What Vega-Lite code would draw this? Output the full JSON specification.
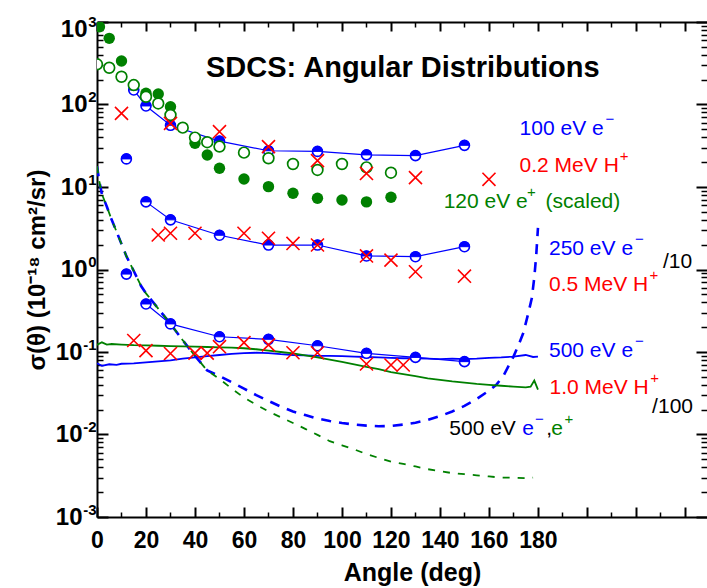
{
  "$schema": "https://vega.github.io/schema/vega-lite/v6.json",
  "width": 610,
  "height": 495,
  "autosize": {"type": "none"},
  "padding": {"left": 97, "top": 22, "right": 0, "bottom": 71},
  "background": "white",
  "config": {"view": {"stroke": null}, "font": "Liberation Sans", "axis": {"grid": false}},
  "datasets": {
    "bdash": [
      {"a": 0, "v": 17.8}, {"a": 1, "v": 11.5}, {"a": 2, "v": 8.2}, {"a": 4, "v": 5.8}, {"a": 6, "v": 4.0},
      {"a": 8, "v": 2.87}, {"a": 10, "v": 2.04}, {"a": 12, "v": 1.45}, {"a": 15, "v": 0.96}, {"a": 18, "v": 0.63},
      {"a": 20, "v": 0.514}, {"a": 25, "v": 0.336}, {"a": 30, "v": 0.219}, {"a": 35, "v": 0.139}, {"a": 40, "v": 0.0897},
      {"a": 45, "v": 0.0596}, {"a": 50, "v": 0.051}, {"a": 55, "v": 0.043}, {"a": 60, "v": 0.036}, {"a": 65, "v": 0.030},
      {"a": 70, "v": 0.0255}, {"a": 75, "v": 0.0218}, {"a": 80, "v": 0.019}, {"a": 85, "v": 0.0172}, {"a": 90, "v": 0.0156},
      {"a": 95, "v": 0.0146}, {"a": 100, "v": 0.0138}, {"a": 105, "v": 0.0132}, {"a": 110, "v": 0.0128}, {"a": 115, "v": 0.0126},
      {"a": 120, "v": 0.0127}, {"a": 125, "v": 0.0132}, {"a": 130, "v": 0.0139}, {"a": 135, "v": 0.015}, {"a": 140, "v": 0.0167},
      {"a": 145, "v": 0.019}, {"a": 150, "v": 0.0222}, {"a": 155, "v": 0.027}, {"a": 160, "v": 0.034}, {"a": 163, "v": 0.040},
      {"a": 166, "v": 0.052}, {"a": 170, "v": 0.088}, {"a": 172, "v": 0.12}, {"a": 174, "v": 0.17}, {"a": 176, "v": 0.29},
      {"a": 177.5, "v": 0.45}, {"a": 178.5, "v": 0.8}, {"a": 179.3, "v": 1.5}, {"a": 180, "v": 3.2}
    ],
    "gdash": [
      {"a": 0, "v": 17.8}, {"a": 1, "v": 11.5}, {"a": 2, "v": 8.2}, {"a": 4, "v": 5.8}, {"a": 6, "v": 4.0},
      {"a": 8, "v": 2.87}, {"a": 10, "v": 2.04}, {"a": 12, "v": 1.45}, {"a": 15, "v": 0.96}, {"a": 18, "v": 0.63},
      {"a": 20, "v": 0.514}, {"a": 25, "v": 0.336}, {"a": 30, "v": 0.219}, {"a": 35, "v": 0.139}, {"a": 40, "v": 0.0897},
      {"a": 45, "v": 0.0596}, {"a": 50, "v": 0.047}, {"a": 55, "v": 0.036}, {"a": 60, "v": 0.028}, {"a": 65, "v": 0.023},
      {"a": 70, "v": 0.019}, {"a": 75, "v": 0.0162}, {"a": 80, "v": 0.0138}, {"a": 85, "v": 0.0117}, {"a": 90, "v": 0.0099},
      {"a": 95, "v": 0.0083}, {"a": 100, "v": 0.0074}, {"a": 105, "v": 0.0066}, {"a": 110, "v": 0.0058}, {"a": 115, "v": 0.0052},
      {"a": 120, "v": 0.0047}, {"a": 125, "v": 0.0044}, {"a": 130, "v": 0.0041}, {"a": 135, "v": 0.0038}, {"a": 140, "v": 0.0036},
      {"a": 145, "v": 0.0034}, {"a": 150, "v": 0.0033}, {"a": 155, "v": 0.0032}, {"a": 160, "v": 0.0031}, {"a": 165, "v": 0.0030},
      {"a": 170, "v": 0.0030}, {"a": 175, "v": 0.00295}, {"a": 178, "v": 0.0030}
    ],
    "bsolid": [
      {"a": 0, "v": 0.073}, {"a": 2, "v": 0.068}, {"a": 5, "v": 0.071}, {"a": 8, "v": 0.070}, {"a": 10, "v": 0.072},
      {"a": 15, "v": 0.073}, {"a": 20, "v": 0.075}, {"a": 25, "v": 0.077}, {"a": 30, "v": 0.079}, {"a": 35, "v": 0.083},
      {"a": 40, "v": 0.086}, {"a": 45, "v": 0.089}, {"a": 50, "v": 0.092}, {"a": 55, "v": 0.095}, {"a": 60, "v": 0.097},
      {"a": 65, "v": 0.098}, {"a": 70, "v": 0.097}, {"a": 75, "v": 0.094}, {"a": 80, "v": 0.092}, {"a": 85, "v": 0.091},
      {"a": 90, "v": 0.090}, {"a": 95, "v": 0.090}, {"a": 100, "v": 0.089}, {"a": 105, "v": 0.088}, {"a": 110, "v": 0.087},
      {"a": 115, "v": 0.086}, {"a": 120, "v": 0.085}, {"a": 125, "v": 0.084}, {"a": 130, "v": 0.084}, {"a": 135, "v": 0.083},
      {"a": 140, "v": 0.082}, {"a": 145, "v": 0.083}, {"a": 150, "v": 0.082}, {"a": 155, "v": 0.083}, {"a": 160, "v": 0.085},
      {"a": 165, "v": 0.086}, {"a": 170, "v": 0.088}, {"a": 175, "v": 0.092}, {"a": 178, "v": 0.087}, {"a": 180, "v": 0.088}
    ],
    "gsolid": [
      {"a": 0, "v": 0.122}, {"a": 2, "v": 0.131}, {"a": 4, "v": 0.123}, {"a": 6, "v": 0.125}, {"a": 10, "v": 0.123},
      {"a": 15, "v": 0.121}, {"a": 20, "v": 0.120}, {"a": 25, "v": 0.119}, {"a": 30, "v": 0.118}, {"a": 35, "v": 0.117},
      {"a": 40, "v": 0.116}, {"a": 45, "v": 0.115}, {"a": 50, "v": 0.114}, {"a": 55, "v": 0.113}, {"a": 60, "v": 0.111},
      {"a": 65, "v": 0.108}, {"a": 70, "v": 0.104}, {"a": 75, "v": 0.100}, {"a": 80, "v": 0.096}, {"a": 85, "v": 0.091},
      {"a": 90, "v": 0.086}, {"a": 95, "v": 0.081}, {"a": 100, "v": 0.076}, {"a": 105, "v": 0.071}, {"a": 110, "v": 0.066},
      {"a": 115, "v": 0.062}, {"a": 120, "v": 0.057}, {"a": 125, "v": 0.054}, {"a": 130, "v": 0.051}, {"a": 135, "v": 0.048},
      {"a": 140, "v": 0.046}, {"a": 145, "v": 0.044}, {"a": 150, "v": 0.0425}, {"a": 155, "v": 0.041}, {"a": 160, "v": 0.040},
      {"a": 165, "v": 0.039}, {"a": 170, "v": 0.038}, {"a": 175, "v": 0.0373}, {"a": 177, "v": 0.038}, {"a": 178.5, "v": 0.045},
      {"a": 180, "v": 0.035}
    ],
    "eblue": [
      {"s": "e100", "a": 15, "v": 150}, {"s": "e100", "a": 20, "v": 96}, {"s": "e100", "a": 30, "v": 56},
      {"s": "e100", "a": 50, "v": 36}, {"s": "e100", "a": 70, "v": 27.5}, {"s": "e100", "a": 90, "v": 27},
      {"s": "e100", "a": 110, "v": 24.5}, {"s": "e100", "a": 130, "v": 24}, {"s": "e100", "a": 150, "v": 32},
      {"s": "e250", "a": 12, "v": 21.9}, {"s": "e250", "a": 20, "v": 6.6}, {"s": "e250", "a": 30, "v": 4.0},
      {"s": "e250", "a": 50, "v": 2.6}, {"s": "e250", "a": 70, "v": 1.98}, {"s": "e250", "a": 90, "v": 1.98},
      {"s": "e250", "a": 110, "v": 1.46}, {"s": "e250", "a": 130, "v": 1.43}, {"s": "e250", "a": 150, "v": 1.89},
      {"s": "e500", "a": 12, "v": 0.88}, {"s": "e500", "a": 20, "v": 0.382}, {"s": "e500", "a": 30, "v": 0.219},
      {"s": "e500", "a": 50, "v": 0.153}, {"s": "e500", "a": 70, "v": 0.1425}, {"s": "e500", "a": 90, "v": 0.119},
      {"s": "e500", "a": 110, "v": 0.0964}, {"s": "e500", "a": 130, "v": 0.086}, {"s": "e500", "a": 150, "v": 0.0764}
    ],
    "red": [
      {"s": "p02", "a": 10, "v": 78}, {"s": "p02", "a": 30, "v": 59}, {"s": "p02", "a": 50, "v": 46.8},
      {"s": "p02", "a": 70, "v": 30.9}, {"s": "p02", "a": 90, "v": 20.9}, {"s": "p02", "a": 110, "v": 14.6},
      {"s": "p02", "a": 130, "v": 13.0}, {"s": "p02", "a": 160, "v": 12.4},
      {"s": "p05", "a": 25, "v": 2.62}, {"s": "p05", "a": 30, "v": 2.75}, {"s": "p05", "a": 40, "v": 2.75},
      {"s": "p05", "a": 60, "v": 2.75}, {"s": "p05", "a": 70, "v": 2.39}, {"s": "p05", "a": 80, "v": 2.07},
      {"s": "p05", "a": 90, "v": 1.98}, {"s": "p05", "a": 110, "v": 1.46}, {"s": "p05", "a": 120, "v": 1.30},
      {"s": "p05", "a": 130, "v": 0.94}, {"s": "p05", "a": 150, "v": 0.83},
      {"s": "p10", "a": 15, "v": 0.138}, {"s": "p10", "a": 20, "v": 0.104}, {"s": "p10", "a": 30, "v": 0.096},
      {"s": "p10", "a": 40, "v": 0.097}, {"s": "p10", "a": 45, "v": 0.097}, {"s": "p10", "a": 50, "v": 0.116},
      {"s": "p10", "a": 60, "v": 0.13}, {"s": "p10", "a": 70, "v": 0.122}, {"s": "p10", "a": 80, "v": 0.098},
      {"s": "p10", "a": 90, "v": 0.098}, {"s": "p10", "a": 110, "v": 0.0716}, {"s": "p10", "a": 120, "v": 0.0695},
      {"s": "p10", "a": 125, "v": 0.0695}
    ],
    "gfilled": [
      {"a": 1, "v": 877}, {"a": 5, "v": 634}, {"a": 10, "v": 337}, {"a": 20, "v": 137}, {"a": 25, "v": 134},
      {"a": 30, "v": 94}, {"a": 40, "v": 33.9}, {"a": 45, "v": 24.4}, {"a": 50, "v": 16.9}, {"a": 60, "v": 12.5},
      {"a": 70, "v": 10.1}, {"a": 80, "v": 8.4}, {"a": 90, "v": 7.3}, {"a": 100, "v": 6.95}, {"a": 110, "v": 6.6},
      {"a": 120, "v": 7.5}
    ],
    "gopen": [
      {"a": 0, "v": 307}, {"a": 5, "v": 279}, {"a": 10, "v": 217}, {"a": 15, "v": 172}, {"a": 20, "v": 124},
      {"a": 25, "v": 103}, {"a": 30, "v": 74.6}, {"a": 35, "v": 52.4}, {"a": 40, "v": 39.7}, {"a": 45, "v": 34.9},
      {"a": 50, "v": 30.9}, {"a": 60, "v": 26.1}, {"a": 70, "v": 22.3}, {"a": 80, "v": 19.0}, {"a": 90, "v": 16.1},
      {"a": 100, "v": 19.0}, {"a": 110, "v": 17.3}, {"a": 120, "v": 14.9}
    ],
    "tblue": [
      {"t": "100 eV e", "a": 172.5, "v": 42.7}, {"t": "250 eV e", "a": 184.5, "v": 1.50},
      {"t": "500 eV e", "a": 184.5, "v": 0.0863}, {"t": "e", "a": 173.6, "v": 0.00986}
    ],
    "sblue": [
      {"t": "−", "a": 207.6, "v": 42.7}, {"t": "−", "a": 219.6, "v": 1.50},
      {"t": "−", "a": 219.6, "v": 0.0863}, {"t": "−", "a": 178.8, "v": 0.00986}
    ],
    "tred": [
      {"t": "0.2 MeV H", "a": 172.5, "v": 15.3}, {"t": "0.5 MeV H", "a": 184.5, "v": 0.553},
      {"t": "1.0 MeV H", "a": 184.7, "v": 0.031}
    ],
    "sred": [
      {"t": "+", "a": 213.4, "v": 15.3}, {"t": "+", "a": 225.5, "v": 0.553},
      {"t": "+", "a": 225.8, "v": 0.031}
    ],
    "tgreen": [
      {"t": "120 eV e", "a": 141.5, "v": 5.52}, {"t": "(scaled)", "a": 183.1, "v": 5.52},
      {"t": "e", "a": 185.4, "v": 0.00986}
    ],
    "sgreen": [
      {"t": "+", "a": 175.5, "v": 5.52}, {"t": "+", "a": 190.8, "v": 0.00986}
    ],
    "tblack": [
      {"t": "/10", "a": 231.0, "v": 1.035}, {"t": "/100", "a": 226.6, "v": 0.0181},
      {"t": "500 eV", "a": 143.8, "v": 0.00986}, {"t": ",", "a": 183.4, "v": 0.00986}
    ],
    "ttitle": [
      {"t": "SDCS: Angular Distributions", "a": 44.5, "v": 214}
    ]
  },
  "layer": [
    {
      "data": {"name": "bdash"},
      "mark": {"type": "line", "color": "#0000FF", "strokeWidth": 2.6, "strokeDash": [10, 8], "clip": true},
      "encoding": {
        "x": {"field": "a", "type": "quantitative", "scale": {"domain": [0, 249], "nice": false, "zero": false},
          "axis": {"orient": "bottom", "values": [0, 20, 40, 60, 80, 100, 120, 140, 160, 180], "ticks": false,
            "domain": true, "domainColor": "black", "domainWidth": 2,
            "labelFont": "Liberation Sans", "labelFontWeight": "bold", "labelFontSize": 23, "labelColor": "black",
            "labelPadding": 12, "labelFlush": false, "labelOverlap": false,
            "title": "Angle (deg)", "titleFont": "Liberation Sans", "titleFontWeight": "bold", "titleFontSize": 25,
            "titleColor": "black", "titlePadding": 8, "titleX": 315}},
        "y": {"field": "v", "type": "quantitative", "scale": {"type": "log", "domain": [0.001, 1000], "nice": false},
          "axis": {"orient": "left", "values": [0.001, 0.01, 0.1, 1, 10, 100, 1000], "ticks": false,
            "domain": true, "domainColor": "black", "domainWidth": 2,
            "labelExpr": "'10'",
            "labelFont": "Liberation Sans", "labelFontWeight": "bold", "labelFontSize": 24, "labelColor": "black",
            "labelPadding": {"condition": {"test": "datum.value < 0.5", "value": 15}, "value": 10},
            "labelOffset": {"condition": {"test": "datum.value > 500", "value": 7}, "value": 0},
            "labelFlush": false, "labelOverlap": false, "labelBaseline": "middle",
            "title": "σ(θ) (10⁻¹⁸ cm²/sr)", "titleFont": "Liberation Sans", "titleFontWeight": "bold", "titleFontSize": 24,
            "titleColor": "black", "titlePadding": 6}}
      }
    },
    {
      "data": {"name": "gdash"},
      "mark": {"type": "line", "color": "#008000", "strokeWidth": 1.8, "strokeDash": [7, 8], "clip": true},
      "encoding": {
        "x": {"field": "a", "type": "quantitative",
          "axis": {"orient": "bottom", "values": [0, 20, 40, 60, 80, 100, 120, 140, 160, 180, 200, 220, 240],
            "tickSize": -10, "tickWidth": 2, "tickColor": "black", "labels": false, "domain": false, "title": null}},
        "y": {"field": "v", "type": "quantitative",
          "axis": {"orient": "left", "values": [0.001, 0.01, 0.1, 1, 10, 100, 1000],
            "tickSize": -11, "tickWidth": 2, "tickColor": "black", "labels": false, "domain": false, "title": null}}
      }
    },
    {
      "data": {"name": "bsolid"},
      "mark": {"type": "line", "color": "#0000FF", "strokeWidth": 1.8, "clip": true},
      "encoding": {
        "x": {"field": "a", "type": "quantitative",
          "axis": {"orient": "bottom", "values": [10, 30, 50, 70, 90, 110, 130, 150, 170, 190, 210, 230],
            "tickSize": -5, "tickWidth": 1.5, "tickColor": "black", "labels": false, "domain": false, "title": null}},
        "y": {"field": "v", "type": "quantitative",
          "axis": {"orient": "left",
            "values": [0.002, 0.003, 0.004, 0.005, 0.006, 0.007, 0.008, 0.009, 0.02, 0.03, 0.04, 0.05, 0.06, 0.07, 0.08, 0.09,
              0.2, 0.3, 0.4, 0.5, 0.6, 0.7, 0.8, 0.9, 2, 3, 4, 5, 6, 7, 8, 9, 20, 30, 40, 50, 60, 70, 80, 90,
              200, 300, 400, 500, 600, 700, 800, 900],
            "tickSize": -6, "tickWidth": 1.5, "tickColor": "black", "labels": false, "domain": false, "title": null}}
      }
    },
    {
      "data": {"name": "gsolid"},
      "mark": {"type": "line", "color": "#008000", "strokeWidth": 1.8, "clip": true},
      "encoding": {
        "x": {"field": "a", "type": "quantitative",
          "axis": {"orient": "top", "values": [0, 20, 40, 60, 80, 100, 120, 140, 160, 180, 200, 220, 240],
            "tickSize": -9, "tickWidth": 2, "tickColor": "black", "labels": false,
            "domain": true, "domainColor": "black", "domainWidth": 2, "title": null}},
        "y": {"field": "v", "type": "quantitative",
          "axis": {"orient": "right", "values": [0.001, 0.01, 0.1, 1, 10, 100, 1000],
            "tickSize": -11, "tickWidth": 2, "tickColor": "black", "labels": false, "domain": false, "title": null}}
      }
    },
    {
      "data": {"name": "eblue"},
      "transform": [{"filter": "datum.a >= 15"}],
      "mark": {"type": "line", "color": "#0000FF", "strokeWidth": 1.2},
      "encoding": {
        "detail": {"field": "s"},
        "x": {"field": "a", "type": "quantitative",
          "axis": {"orient": "top", "values": [10, 30, 50, 70, 90, 110, 130, 150, 170, 190, 210, 230],
            "tickSize": -5, "tickWidth": 1.5, "tickColor": "black", "labels": false, "domain": false, "title": null}},
        "y": {"field": "v", "type": "quantitative",
          "axis": {"orient": "right",
            "values": [0.002, 0.003, 0.004, 0.005, 0.006, 0.007, 0.008, 0.009, 0.02, 0.03, 0.04, 0.05, 0.06, 0.07, 0.08, 0.09,
              0.2, 0.3, 0.4, 0.5, 0.6, 0.7, 0.8, 0.9, 2, 3, 4, 5, 6, 7, 8, 9, 20, 30, 40, 50, 60, 70, 80, 90,
              200, 300, 400, 500, 600, 700, 800, 900],
            "tickSize": -6, "tickWidth": 1.5, "tickColor": "black", "labels": false, "domain": false, "title": null}}
      }
    },
    {
      "data": {"name": "eblue"},
      "mark": {"type": "point", "shape": "circle", "filled": true, "fill": "white", "stroke": "#0000FF", "strokeWidth": 1.6, "size": 100, "opacity": 1},
      "encoding": {
        "x": {"field": "a", "type": "quantitative", "axis": null},
        "y": {"field": "v", "type": "quantitative",
          "axis": {"orient": "left", "values": [0.001, 0.01, 0.1, 1, 10, 100, 1000], "ticks": false, "domain": false, "title": null,
            "labelExpr": "datum.value > 500 ? '3' : datum.value > 50 ? '2' : datum.value > 5 ? '1' : datum.value > 0.5 ? '0' : datum.value > 0.05 ? '-1' : datum.value > 0.005 ? '-2' : '-3'",
            "labelFont": "Liberation Sans", "labelFontWeight": "bold", "labelFontSize": 15, "labelColor": "black",
            "labelPadding": 1, "labelFlush": false, "labelOverlap": false, "labelBaseline": "middle",
            "labelOffset": {"condition": {"test": "datum.value > 500", "value": -1}, "value": -8}}}
      }
    },
    {
      "data": {"name": "eblue"},
      "mark": {"type": "point", "shape": "M -1 0 A 1 1 0 0 1 1 0 Z", "filled": true, "fill": "#0000FF", "stroke": "#0000FF", "strokeWidth": 1, "size": 100, "opacity": 1},
      "encoding": {
        "x": {"field": "a", "type": "quantitative", "axis": null},
        "y": {"field": "v", "type": "quantitative", "axis": null}
      }
    },
    {
      "data": {"name": "gfilled"},
      "mark": {"type": "point", "shape": "circle", "filled": true, "color": "#008000", "size": 130, "opacity": 1, "clip": true},
      "encoding": {
        "x": {"field": "a", "type": "quantitative", "axis": null},
        "y": {"field": "v", "type": "quantitative", "axis": null}
      }
    },
    {
      "data": {"name": "gopen"},
      "mark": {"type": "point", "shape": "circle", "filled": true, "fill": "white", "stroke": "#008000", "strokeWidth": 1.7, "size": 115, "opacity": 1, "clip": true},
      "encoding": {
        "x": {"field": "a", "type": "quantitative", "axis": null},
        "y": {"field": "v", "type": "quantitative", "axis": null}
      }
    },
    {
      "data": {"name": "red"},
      "mark": {"type": "point", "shape": "M -1 -1 L 1 1 M -1 1 L 1 -1", "filled": false, "stroke": "#FF0000", "strokeWidth": 1.6, "size": 170, "opacity": 1},
      "encoding": {
        "x": {"field": "a", "type": "quantitative", "axis": null},
        "y": {"field": "v", "type": "quantitative", "axis": null}
      }
    },
    {
      "data": {"name": "tblue"},
      "mark": {"type": "text", "align": "left", "baseline": "alphabetic", "font": "Liberation Sans", "fontSize": 21, "color": "#0000FF"},
      "encoding": {
        "x": {"field": "a", "type": "quantitative", "axis": null},
        "y": {"field": "v", "type": "quantitative", "axis": null},
        "text": {"field": "t"}
      }
    },
    {
      "data": {"name": "sblue"},
      "mark": {"type": "text", "align": "left", "baseline": "alphabetic", "font": "Liberation Sans", "fontSize": 15, "dy": -11, "color": "#0000FF"},
      "encoding": {
        "x": {"field": "a", "type": "quantitative", "axis": null},
        "y": {"field": "v", "type": "quantitative", "axis": null},
        "text": {"field": "t"}
      }
    },
    {
      "data": {"name": "tred"},
      "mark": {"type": "text", "align": "left", "baseline": "alphabetic", "font": "Liberation Sans", "fontSize": 21, "color": "#FF0000"},
      "encoding": {
        "x": {"field": "a", "type": "quantitative", "axis": null},
        "y": {"field": "v", "type": "quantitative", "axis": null},
        "text": {"field": "t"}
      }
    },
    {
      "data": {"name": "sred"},
      "mark": {"type": "text", "align": "left", "baseline": "alphabetic", "font": "Liberation Sans", "fontSize": 15, "dy": -11, "color": "#FF0000"},
      "encoding": {
        "x": {"field": "a", "type": "quantitative", "axis": null},
        "y": {"field": "v", "type": "quantitative", "axis": null},
        "text": {"field": "t"}
      }
    },
    {
      "data": {"name": "tgreen"},
      "mark": {"type": "text", "align": "left", "baseline": "alphabetic", "font": "Liberation Sans", "fontSize": 21, "color": "#008000"},
      "encoding": {
        "x": {"field": "a", "type": "quantitative", "axis": null},
        "y": {"field": "v", "type": "quantitative", "axis": null},
        "text": {"field": "t"}
      }
    },
    {
      "data": {"name": "sgreen"},
      "mark": {"type": "text", "align": "left", "baseline": "alphabetic", "font": "Liberation Sans", "fontSize": 15, "dy": -11, "color": "#008000"},
      "encoding": {
        "x": {"field": "a", "type": "quantitative", "axis": null},
        "y": {"field": "v", "type": "quantitative", "axis": null},
        "text": {"field": "t"}
      }
    },
    {
      "data": {"name": "tblack"},
      "mark": {"type": "text", "align": "left", "baseline": "alphabetic", "font": "Liberation Sans", "fontSize": 21, "color": "black"},
      "encoding": {
        "x": {"field": "a", "type": "quantitative", "axis": null},
        "y": {"field": "v", "type": "quantitative", "axis": null},
        "text": {"field": "t"}
      }
    },
    {
      "data": {"name": "ttitle"},
      "mark": {"type": "text", "align": "left", "baseline": "alphabetic", "font": "Liberation Sans", "fontSize": 29, "fontWeight": "bold", "color": "black"},
      "encoding": {
        "x": {"field": "a", "type": "quantitative", "axis": null},
        "y": {"field": "v", "type": "quantitative", "axis": null},
        "text": {"field": "t"}
      }
    }
  ],
  "resolve": {"axis": {"x": "independent", "y": "independent"}}
}
